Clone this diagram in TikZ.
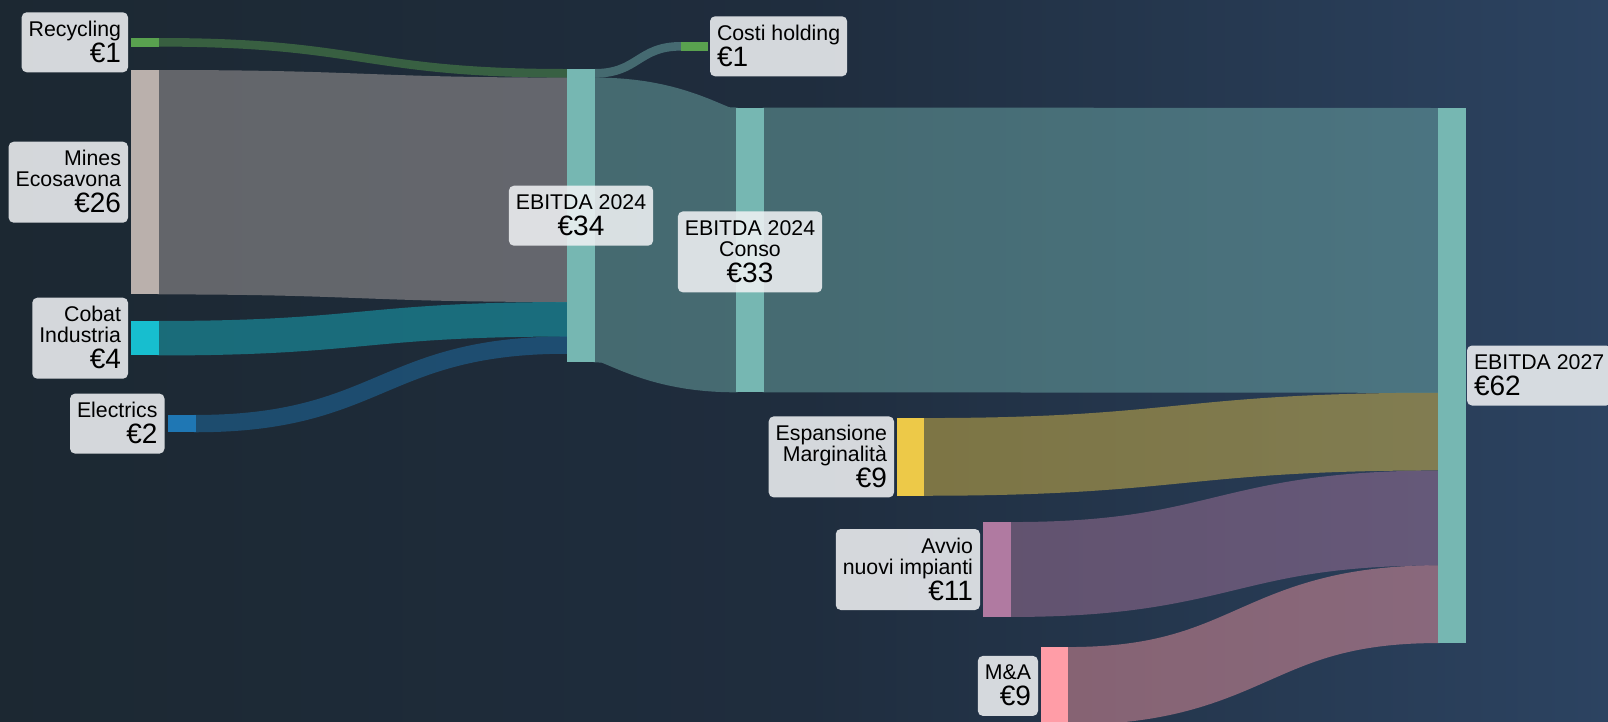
\documentclass[tikz,border=0pt]{standalone}
\usepackage{fontspec}
\setmainfont{Liberation Sans}
\usetikzlibrary{calc}
\definecolor{bgL}{HTML}{1C2832}
\definecolor{bgM}{HTML}{1F2D3E}
\definecolor{bgR}{HTML}{2C4361}
\definecolor{cRec}{HTML}{59A14F}
\definecolor{cMin}{HTML}{BAB0AC}
\definecolor{cCob}{HTML}{17BECF}
\definecolor{cEle}{HTML}{1F77B4}
\definecolor{cEb}{HTML}{76B7B2}
\definecolor{cEsp}{HTML}{EDC948}
\definecolor{cAvv}{HTML}{B07AA1}
\definecolor{cMA}{HTML}{FF9DA7}
\definecolor{labfill}{HTML}{F0F2F4}
\pgfdeclarelayer{bglayer}
\pgfdeclarelayer{linklayer}
\pgfsetlayers{bglayer,linklayer,main}
\newcommand\nfirst[1]{\fontsize{21.3}{21.3}\selectfont\rule[-5pt]{0pt}{29pt}#1}
\newcommand\nmid[1]{\fontsize{21.3}{21.3}\selectfont\rule[-5pt]{0pt}{21pt}#1}
\newcommand\nval[1]{\fontsize{28}{28}\selectfont\rule[-10pt]{0pt}{31pt}#1}
\newcommand\tabR[1]{{\renewcommand\arraystretch{0}\begin{tabular}{@{}r@{}}#1\end{tabular}}}
\newcommand\tabC[1]{{\renewcommand\arraystretch{0}\begin{tabular}{@{}c@{}}#1\end{tabular}}}
\newcommand\tabL[1]{{\renewcommand\arraystretch{0}\begin{tabular}{@{}l@{}}#1\end{tabular}}}
\newcommand\sk[4]{%
  \coordinate (m) at ($(#1)!.5!(#2)$);
  \draw[sklink, line width=#3pt, draw=#4] ([xshift=-1.5pt]#1) -- (#1) .. controls (m |- #1) and (m |- #2) .. (#2) -- ([xshift=1.5pt]#2);}
\tikzset{
  bar/.style={rectangle, inner sep=0pt, outer sep=0pt, minimum width=28pt, draw=none},
  sklink/.style={draw opacity=.45},
  lab/.style={rectangle, rounded corners=5pt, fill=labfill, fill opacity=.87, text opacity=1,
    text=black, inner xsep=7pt, inner ysep=0pt, outer sep=0pt},
}
\begin{document}
\begin{tikzpicture}[x=1pt, y=-1pt]
\useasboundingbox (0,0) rectangle (1608,721);
\begin{pgfonlayer}{bglayer}
  \fill[left color=bgL, right color=bgM] (-1,-1) rectangle (804.5,722);
  \fill[left color=bgM, right color=bgR] (804,-1) rectangle (1609,722);
\end{pgfonlayer}

% bars
\node[bar, fill=cRec, minimum height=8.6pt] (rec) at (145,42.3) {};
\node[bar, fill=cMin, minimum height=224.4pt] (min) at (145,182.2) {};
\node[bar, fill=cCob, minimum height=34.5pt] (cob) at (145,338.2) {};
\node[bar, fill=cEle, minimum height=17.3pt] (ele) at (181.5,423.6) {};
\node[bar, fill=cEb, minimum height=293.4pt] (e24) at (581,215.7) {};
\node[bar, fill=cRec, minimum height=8.6pt, minimum width=27pt] (cos) at (694.5,46.3) {};
\node[bar, fill=cEb, minimum height=284.8pt] (con) at (750,249.9) {};
\node[bar, fill=cEsp, minimum height=77.7pt, minimum width=27pt] (esp) at (910.5,456.9) {};
\node[bar, fill=cAvv, minimum height=94.9pt] (avv) at (997,569.5) {};
\node[bar, fill=cMA, minimum height=77.7pt, minimum width=27pt] (ma) at (1054.5,685.9) {};
\node[bar, fill=cEb, minimum height=535pt] (e27) at (1452,375.5) {};

% link ports
\coordinate (e24-i1) at ($(e24.north west)+(0,4.3)$);
\coordinate (e24-i2) at ($(e24.north west)+(0,120.8)$);
\coordinate (e24-i3) at ($(e24.north west)+(0,250.3)$);
\coordinate (e24-i4) at ($(e24.north west)+(0,276.1)$);
\coordinate (e24-o1) at ($(e24.north east)+(0,4.3)$);
\coordinate (e24-o2) at ($(e24.north east)+(0,151)$);
\coordinate (e27-i1) at ($(e27.north west)+(0,142.4)$);
\coordinate (e27-i2) at ($(e27.north west)+(0,323.6)$);
\coordinate (e27-i3) at ($(e27.north west)+(0,410)$);
\coordinate (e27-i4) at ($(e27.north west)+(0,496.2)$);

\begin{pgfonlayer}{linklayer}
\sk{rec.east}{e24-i1}{8.6}{cRec}
\sk{min.east}{e24-i2}{224.4}{cMin}
\sk{cob.east}{e24-i3}{34.5}{cCob}
\sk{ele.east}{e24-i4}{17.3}{cEle}
\sk{e24-o1}{cos.west}{8.6}{cEb}
\sk{e24-o2}{con.west}{284.8}{cEb}
\sk{con.east}{e27-i1}{284.8}{cEb}
\sk{esp.east}{e27-i2}{77.7}{cEsp}
\sk{avv.east}{e27-i3}{94.9}{cAvv}
\sk{ma.east}{e27-i4}{77.7}{cMA}
\end{pgfonlayer}

% labels
\node[lab, anchor=east] (recL) at ([xshift=-3pt]rec.west) {\tabR{\nfirst{Recycling}\\\nval{€1}}};
\node[lab, anchor=east] (minL) at ([xshift=-3pt]min.west) {\tabR{\nfirst{Mines}\\\nmid{Ecosavona}\\\nval{€26}}};
\node[lab, anchor=east] (cobL) at ([xshift=-3pt]cob.west) {\tabR{\nfirst{Cobat}\\\nmid{Industria}\\\nval{€4}}};
\node[lab, anchor=east] (eleL) at ([xshift=-3pt]ele.west) {\tabR{\nfirst{Electrics}\\\nval{€2}}};
\node[lab] (e24L) at (e24.center) {\tabC{\nfirst{EBITDA 2024}\\\nval{€34}}};
\node[lab] (conL) at ([yshift=-2pt]con.center) {\tabC{\nfirst{EBITDA 2024}\\\nmid{Conso}\\\nval{€33}}};
\node[lab, anchor=west] (cosL) at ([xshift=2pt]cos.east) {\tabL{\nfirst{Costi holding}\\\nval{€1}}};
\node[lab, anchor=west] (e27L) at ([xshift=1pt]e27.east) {\tabL{\nfirst{EBITDA 2027}\\\nval{€62}}};
\node[lab, anchor=east] (espL) at ([xshift=-3pt]esp.west) {\tabR{\nfirst{Espansione}\\\nmid{Marginalità}\\\nval{€9}}};
\node[lab, anchor=east] (avvL) at ([xshift=-3pt]avv.west) {\tabR{\nfirst{Avvio}\\\nmid{nuovi impianti}\\\nval{€11}}};
\node[lab, anchor=east] (maL) at ([xshift=-3pt]ma.west) {\tabR{\nfirst{M\&A}\\\nval{€9}}};
\end{tikzpicture}
\end{document}
